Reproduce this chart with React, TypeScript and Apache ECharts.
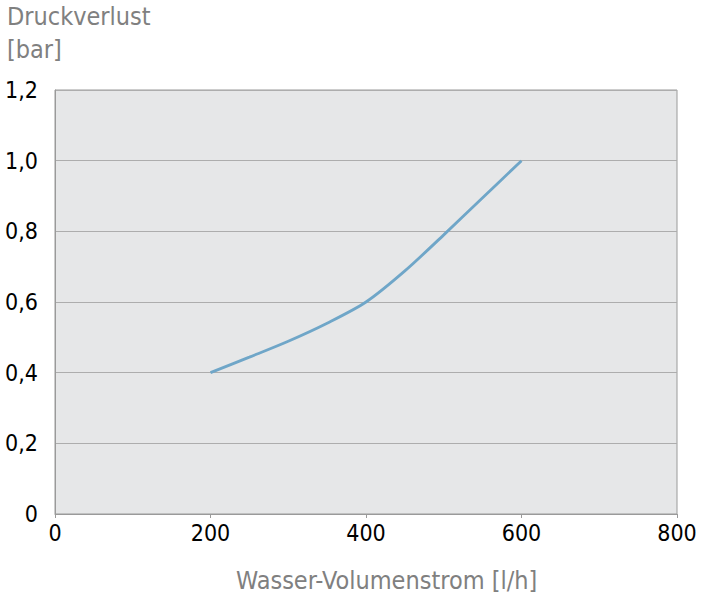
import React, { useEffect, useRef } from "react";
import * as echarts from "echarts";

const flowValues = [200, 250, 300, 350, 400, 450, 500, 550, 600];
const pressureValues = [0.4, 0.444, 0.489, 0.54, 0.6, 0.688, 0.79, 0.895, 1.0];
const yAxisTitle = ["Druckverlust", "[bar]"];
const xAxisTitle = "Wasser-Volumenstrom [l/h]";

const FONT = "'Liberation Sans Narrow', 'Arial Narrow', 'DejaVu Sans Condensed', sans-serif";

export default function App() {
  const ref = useRef<HTMLDivElement>(null);
  useEffect(() => {
    if (!ref.current) return;
    const chart = echarts.init(ref.current, undefined, { renderer: "svg" });
    chart.setOption({
      animation: false,
      backgroundColor: "#ffffff",
      grid: {
        left: 55,
        right: 30,
        top: 90,
        bottom: 91,
        show: true,
        backgroundColor: "#e6e7e8",
        borderColor: "#9a9a9a",
        borderWidth: 1,
      },
      xAxis: {
        type: "value",
        min: 0,
        max: 800,
        interval: 200,
        axisLine: { show: true, lineStyle: { color: "#9a9a9a" } },
        axisTick: { show: true, length: 4, lineStyle: { color: "#9a9a9a" } },
        splitLine: { show: false },
        axisLabel: {
          color: "#000",
          fontSize: 23,
          fontFamily: FONT,
          margin: 7,
        },
      },
      yAxis: {
        type: "value",
        min: 0,
        max: 1.2,
        interval: 0.2,
        axisLine: { show: true, lineStyle: { color: "#9a9a9a" } },
        axisTick: { show: false },
        splitLine: { show: true, lineStyle: { color: "#adadad", width: 1.2 } },
        axisLabel: {
          color: "#000",
          fontSize: 23,
          fontFamily: FONT,
          margin: 17,
          formatter: (v: number) => (v === 0 ? "0" : v.toFixed(1).replace(".", ",")),
        },
      },
      graphic: [
        {
          type: "text",
          left: 7,
          top: 0,
          style: {
            text: yAxisTitle.join("\n"),
            fill: "#808080",
            fontSize: 25,
            lineHeight: 33,
            fontFamily: FONT,
          },
        },
        {
          type: "text",
          left: 236,
          top: 568,
          style: {
            text: xAxisTitle,
            fill: "#808080",
            fontSize: 25,
            fontFamily: FONT,
          },
        },
      ],
      series: [
        {
          type: "line",
          data: flowValues.map((x, i) => [x, pressureValues[i]]),
          smooth: 0.3,
          showSymbol: false,
          lineStyle: { color: "#6fa6c8", width: 2.8 },
        },
      ],
    });
    return () => chart.dispose();
  }, []);
  return <div ref={ref} style={{ width: 707, height: 605, position: "absolute", left: 0, top: 0 }} />;
}
